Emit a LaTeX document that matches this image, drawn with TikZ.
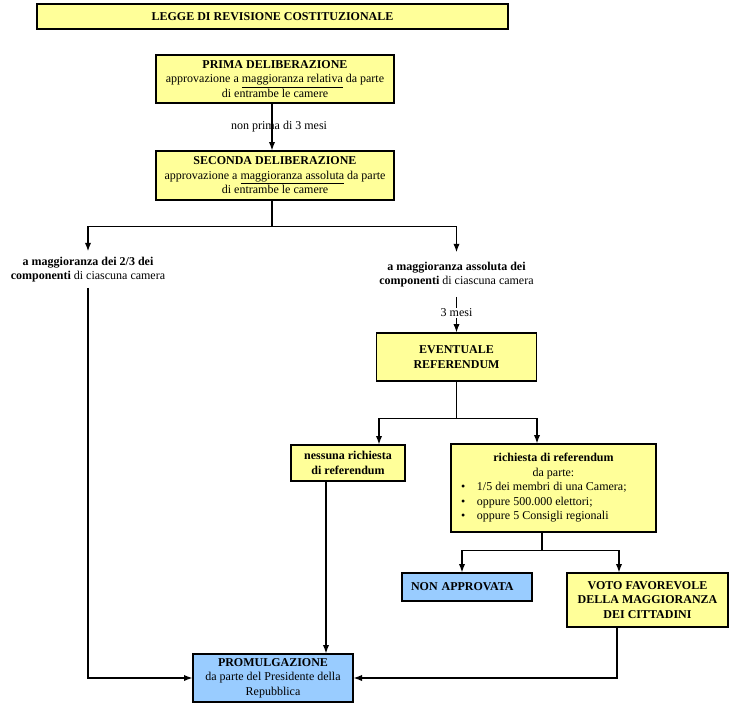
\documentclass[tikz,border=0pt]{standalone}
\usepackage{fontspec}
\setmainfont{Liberation Serif}
\usepackage{tikz}
\usetikzlibrary{arrows.meta}
\definecolor{giallo}{HTML}{FFFF99}
\definecolor{azzurro}{HTML}{99CCFF}

\begin{document}
\begin{tikzpicture}[x=1pt, y=-1pt, line width=1.2pt,
  every node/.style={font=\fontsize{12}{14.5}\selectfont},
  textbox/.style={draw, fill=giallo, align=center, inner sep=0},
  bluebox/.style={textbox, fill=azzurro},
  freetext/.style={align=center, inner sep=5}]
\useasboundingbox (0,0) rectangle (732,705);
%boxes
\node[textbox, minimum width=471, minimum height=25] (v1) at (272.5,16.5) {\textbf{LEGGE DI REVISIONE COSTITUZIONALE}};
\node[textbox, minimum width=238, minimum height=48] (v2) at (275,79) {\textbf{PRIMA DELIBERAZIONE}\\approvazione a \underline{maggioranza relativa} da parte\\di entrambe le camere};
\node[textbox, minimum width=238, minimum height=49] (v3) at (275,175.5) {\textbf{SECONDA DELIBERAZIONE}\\approvazione a \underline{maggioranza assoluta} da parte\\di entrambe le camere};
\node[freetext] (v4) at (88,269.5) {\textbf{a maggioranza dei 2/3 dei}\\\textbf{componenti} di ciascuna camera};
\node[freetext, inner ysep=9] (v5) at (456.5,274.5) {\textbf{a maggioranza assoluta dei}\\\textbf{componenti} di ciascuna camera};
\node[textbox, minimum width=160, minimum height=48] (v6) at (456.5,357) {\textbf{EVENTUALE}\\\textbf{REFERENDUM}};
\node[textbox, minimum width=114, minimum height=36] (v7) at (348,463) {\textbf{nessuna richiesta}\\\textbf{di referendum}};
\node[textbox, minimum width=205, minimum height=88] (v8) at (553.5,488) {\begin{minipage}{185pt}\centering
  \textbf{richiesta di referendum}\\da parte:\par\raggedright
  \makebox[16pt][l]{\textbullet}1/5 dei membri di una Camera;\\
  \makebox[16pt][l]{\textbullet}oppure 500.000 elettori;\\
  \makebox[16pt][l]{\textbullet}oppure 5 Consigli regionali\end{minipage}};
\node[bluebox, minimum width=130, minimum height=28, inner xsep=9, text width=112, align=left] (v9) at (467,587) {\textbf{NON APPROVATA}};
\node[textbox, minimum width=161, minimum height=54] (v10) at (647.5,600) {\textbf{VOTO FAVOREVOLE}\\\textbf{DELLA MAGGIORANZA}\\\textbf{DEI CITTADINI}};
\node[bluebox, minimum width=160, minimum height=48] (v11) at (273,678) {\textbf{PROMULGAZIONE}\\da parte del Presidente della\\Repubblica};
%connectors
\draw [-Latex] ([xshift=-3]v2.south) -- node[xshift=7] {non prima di 3 mesi} ([xshift=-3]v3.north);
\draw [-Latex] ([xshift=-3]v3.south) -- ++(0,26) -| (v4.north);
\draw [-Latex] ([xshift=-3]v3.south) -- ++(0,26) -| (v5.north);
\draw [-Latex] (v4.south) |- (v11.west);
\draw [-Latex] (v5.south) -- node[pos=0.45, fill=white, inner sep=1] {3 mesi} (v6.north);
\draw [-Latex] (v6.south) -- ++(0,37) -| ([xshift=31]v7.north);
\draw [-Latex] (v6.south) -- ++(0,37) -| ([xshift=-16.5]v8.north);
\draw [-Latex] ([xshift=-22]v7.south) -- ([xshift=-22]v7.south |- v11.north);
\draw [-Latex] ([xshift=-11.5]v8.south) -- ++(0,18) -| ([xshift=-5]v9.north);
\draw [-Latex] ([xshift=-11.5]v8.south) -- ++(0,18) -| ([xshift=-28.5]v10.north);
\draw [-Latex] ([xshift=-30.5]v10.south) |- (v11.east);
\end{tikzpicture}
\end{document}
